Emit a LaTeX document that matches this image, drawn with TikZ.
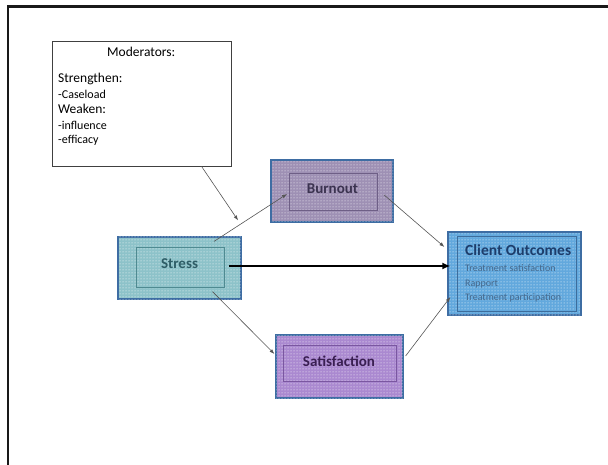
\documentclass[tikz,border=0pt]{standalone}
\usepackage{fontspec}
\setmainfont{Carlito}
\usetikzlibrary{patterns,arrows.meta}

\definecolor{teal1}{HTML}{8DC2C9}
\definecolor{teal2}{HTML}{4F8A91}
\definecolor{tealtxt}{HTML}{2E5D66}
\definecolor{mauve1}{HTML}{9E90B4}
\definecolor{mauve2}{HTML}{6E5F86}
\definecolor{mauvetxt}{HTML}{3B3350}
\definecolor{violet1}{HTML}{AA89D0}
\definecolor{violet2}{HTML}{7A57A0}
\definecolor{violettxt}{HTML}{3A1F52}
\definecolor{sky1}{HTML}{62A8DD}
\definecolor{sky2}{HTML}{3D6D9C}
\definecolor{skytxt}{HTML}{1D3D6B}
\definecolor{subtxt}{HTML}{44688C}
\definecolor{edgeblue}{HTML}{3E6DA3}
\definecolor{linkgray}{HTML}{555555}

\tikzset{
  outerbox/.style={draw=edgeblue, line width=1.2pt, inner sep=0pt,
    postaction={pattern=dots, pattern color=white}},
  innerbox/.style={draw, line width=0.9pt, inner sep=0pt},
  label/.style={font=\fontsize{15}{17}\selectfont\bfseries},
  modline/.style={anchor=base west, inner sep=0pt},
  link/.style={draw=linkgray, line width=0.6pt, -{Latex[length=5pt,width=3.6pt]}},
  mainlink/.style={draw=black, line width=2pt, -{Latex[length=8pt,width=7pt]}}
}

\begin{document}
\begin{tikzpicture}[x=1pt,y=-1pt]
\useasboundingbox (0,0) rectangle (608,465);

% page frame (open to the right and bottom)
\draw[line width=2.8pt, black!90, line join=miter] (8,465) -- (8,6.5) -- (608,6.5);

% moderators box
\node[draw=black!75, line width=0.7pt, minimum width=179pt, minimum height=125pt, inner sep=0pt]
  (mod) at (141.5,103.5) {};
\node[modline, font=\fontsize{13.5}{15}\selectfont] (modtitle) at (107,57) {Moderators:};
\node[modline, font=\fontsize{13.5}{15}\selectfont] (modstr) at (58,83) {Strengthen:};
\node[modline, font=\fontsize{12}{14}\selectfont] (modcase) at (58,99) {-Caseload};
\node[modline, font=\fontsize{13.5}{15}\selectfont] (modweak) at (58,114) {Weaken:};
\node[modline, font=\fontsize{12}{14}\selectfont] (modinf) at (58,130) {-influence};
\node[modline, font=\fontsize{12}{14}\selectfont] (modeff) at (58,144) {-efficacy};

% stress
\node[outerbox, fill=teal1, minimum width=123pt, minimum height=62pt] (stress) at (179.5,268) {};
\node[innerbox, draw=teal2, minimum width=88pt, minimum height=40pt] (stressin) at (180,267) {};
\node[label, text=tealtxt] (stresslbl) at (179.5,264) {Stress};

% burnout
\node[outerbox, fill=mauve1, minimum width=122pt, minimum height=62pt] (burn) at (332,191) {};
\node[innerbox, draw=mauve2, minimum width=88pt, minimum height=37pt] (burnin) at (333,191.5) {};
\node[label, text=mauvetxt] (burnlbl) at (332.5,189) {Burnout};

% satisfaction
\node[outerbox, fill=violet1, minimum width=127pt, minimum height=63pt] (satis) at (339.5,366.5) {};
\node[innerbox, draw=violet2, minimum width=113pt, minimum height=36pt] (satisin) at (339.5,363) {};
\node[label, text=violettxt] (satislbl) at (339,361) {Satisfaction};

% client outcomes
\node[outerbox, fill=sky1, minimum width=133pt, minimum height=83pt] (client) at (514.5,273.5) {};
\node[innerbox, draw=sky2, minimum width=119pt, minimum height=75pt] (clientin) at (516.5,273.5) {};
\node[anchor=base west, inner sep=0pt, text=skytxt, font=\fontsize{15.5}{17}\selectfont\bfseries]
  (clienttitle) at (465,256) {Client Outcomes};
\node[anchor=base west, inner sep=0pt, text=subtxt, font=\fontsize{10}{12}\selectfont]
  (cl1) at (465,272) {Treatment satisfaction};
\node[anchor=base west, inner sep=0pt, text=subtxt, font=\fontsize{10}{12}\selectfont]
  (cl2) at (465,287) {Rapport};
\node[anchor=base west, inner sep=0pt, text=subtxt, font=\fontsize{10}{12}\selectfont]
  (cl3) at (465,301) {Treatment participation};

% connectors
\draw[link] ([xshift=60pt]mod.south) -- ([xshift=-3.5pt,yshift=16pt]stress.north east);
\draw[link] ([xshift=34.5pt,yshift=-5pt]stress.north) -- ([xshift=-1.5pt,yshift=-2.5pt]burnin.west);
\draw[link] ([xshift=6.7pt,yshift=-3.5pt]burnin.east) -- ([xshift=-3pt,yshift=26.5pt]client.west);
\draw[mainlink] ([xshift=4.7pt,yshift=1pt]stressin.east) -- ([xshift=3pt,yshift=1pt]stressin.east -| client.west);
\draw[link] ([xshift=33pt,yshift=8pt]stress.south) -- ([xshift=-1pt,yshift=12.5pt]satis.west);
\draw[link] ([xshift=2pt,yshift=10.5pt]satis.east) -- ([xshift=3pt,yshift=-23.5pt]client.west);
\end{tikzpicture}
\end{document}
